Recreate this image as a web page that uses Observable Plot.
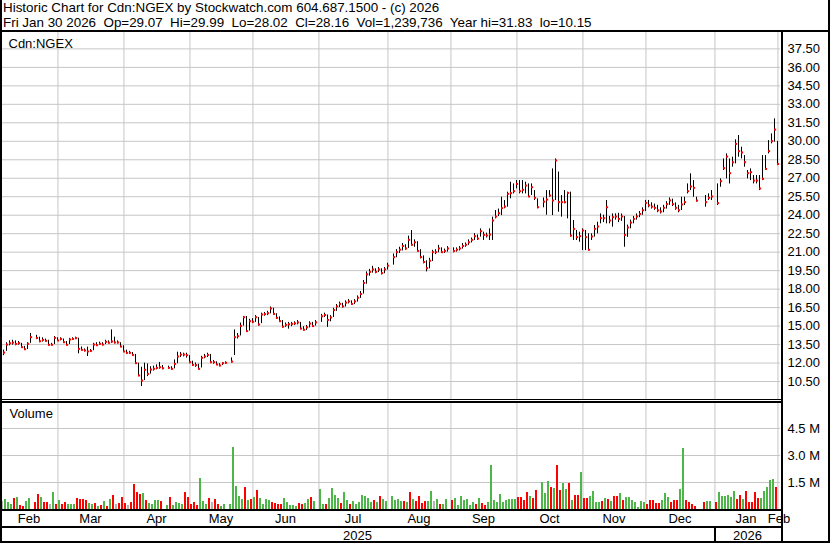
<!DOCTYPE html>
<html><head><meta charset="utf-8">
<script src="https://cdn.jsdelivr.net/npm/d3@7"></script>
<script src="https://cdn.jsdelivr.net/npm/@observablehq/plot@0.6"></script>
<style>
body{margin:0;background:#fff;}
#c{position:relative;width:830px;height:543px;overflow:hidden;background:#fff;font-family:Arial,"Liberation Sans",sans-serif;color:#000;}
#c svg{position:absolute;left:0;}
.ln{position:absolute;background:#000;}
#t{position:absolute;left:3px;top:0;font-size:13.4px;line-height:15px;white-space:pre;}
</style></head><body><div id="c"></div>
<script>
// weekday index 0 = startDate; bars start at firstIndex
const startDate = "2025-01-31";
const firstIndex = 2;
const title1 = "Historic Chart for Cdn:NGEX by Stockwatch.com 604.687.1500 - (c) 2026";
const title2 = "Fri Jan 30 2026  Op=29.07  Hi=29.99  Lo=28.02  Cl=28.16  Vol=1,239,736  Year hi=31.83  lo=10.15";
const symbolLabel = "Cdn:NGEX";
const volumeLabel = "Volume";
const priceTicks = [10.5,12,13.5,15,16.5,18,19.5,21,22.5,24,25.5,27,28.5,30,31.5,33,34.5,36,37.5];
const volumeTicks = [1.5,3.0,4.5]; // millions

const high = [
13.05,13.65,13.80,13.85,13.80,13.75,13.60,13.35,13.65,14.40,
null,14.25,14.10,14.05,13.95,13.85,13.60,14.15,14.05,14.05,
13.95,13.75,14.00,14.05,14.10,14.02,13.30,13.15,13.29,13.10,
13.60,13.65,13.70,13.65,13.85,13.80,14.69,14.10,13.80,13.65,
13.40,13.05,12.95,12.85,12.70,11.99,11.66,11.99,11.93,11.70,
11.75,11.85,12.05,11.80,null,11.75,11.70,12.25,12.88,12.85,
12.80,12.80,12.60,12.15,12.00,11.90,12.55,12.70,12.80,12.70,
12.20,12.10,11.95,12.05,12.10,null,12.42,14.69,14.40,15.25,
15.78,15.78,15.55,15.60,15.85,15.70,16.05,16.10,16.20,16.55,
16.45,16.00,15.75,15.45,15.25,15.30,15.30,15.35,15.45,15.30,
14.95,15.05,15.35,15.30,15.45,null,15.95,16.05,15.90,15.85,
16.45,16.75,16.95,16.85,17.05,17.15,17.05,17.15,17.45,17.80,
18.70,19.40,19.60,19.85,19.65,19.75,19.65,19.75,20.10,null,
20.85,21.20,21.40,21.70,21.60,22.30,22.75,22.00,21.85,21.20,
20.70,20.30,20.50,21.15,21.20,21.55,21.35,21.25,21.45,null,
21.35,21.35,21.45,21.70,21.75,22.00,22.15,22.50,22.40,22.89,
22.62,22.55,22.89,23.84,24.38,24.50,25.46,25.19,25.87,26.68,
26.54,26.81,26.81,26.81,26.68,26.54,26.54,26.00,25.33,null,
25.40,26.00,26.00,27.76,28.57,27.50,25.60,26.00,25.87,25.87,
23.57,22.76,22.62,22.89,22.76,22.49,22.49,23.16,23.43,24.11,
24.00,25.19,23.90,24.11,24.11,24.15,24.10,23.90,23.20,23.60,
23.90,24.10,24.30,24.60,25.20,25.20,25.00,24.90,24.80,24.60,
24.80,25.10,25.40,25.30,25.00,24.80,25.46,25.46,26.54,27.36,
26.81,25.46,null,null,25.60,25.73,26.00,null,26.54,26.95,
28.57,28.98,28.57,28.71,30.12,30.47,29.52,28.84,27.63,27.76,
27.22,27.22,27.22,28.84,28.84,30.06,30.60,31.82,29.99];

const low = [
12.60,12.95,13.40,13.45,13.40,13.45,13.20,13.05,13.10,13.60,
null,13.90,13.65,13.70,13.70,13.40,13.40,13.50,13.75,13.80,
13.60,13.40,13.50,13.85,13.90,12.75,13.00,12.90,12.53,12.85,
13.00,13.35,13.45,13.40,13.50,13.55,13.60,13.55,13.55,13.25,
12.85,12.70,12.70,12.55,11.90,10.90,10.09,10.58,10.90,11.10,
11.35,11.45,11.50,11.45,null,11.50,11.40,11.53,11.95,12.45,
12.50,12.40,11.95,11.75,11.65,11.45,11.60,12.35,12.45,11.95,
11.90,11.80,11.70,11.80,11.90,null,12.00,12.61,13.95,14.20,
15.00,14.50,14.60,15.20,15.30,15.00,15.20,15.80,15.85,16.00,
15.90,15.55,15.30,14.85,14.90,14.75,14.95,15.05,15.10,14.70,
14.60,14.65,14.85,14.90,15.00,null,15.30,15.70,14.90,15.35,
15.70,16.20,16.50,16.45,16.55,16.80,16.70,16.75,16.95,17.25,
17.60,18.40,19.05,19.30,19.25,19.35,19.15,19.25,19.55,null,
19.95,20.55,20.90,21.10,21.15,21.30,21.50,21.40,21.00,20.45,
20.05,19.40,19.65,20.25,20.80,20.95,20.90,20.90,21.00,null,
20.95,21.00,21.10,21.25,21.40,21.55,21.75,21.95,21.95,22.22,
21.95,22.15,21.95,21.95,23.70,23.90,23.97,24.52,24.65,25.33,
25.73,26.14,25.73,25.73,25.73,25.46,25.60,25.19,24.52,null,
24.60,24.00,25.46,23.97,25.19,24.24,23.84,24.92,23.70,22.22,
21.95,21.95,21.81,21.13,21.13,21.13,21.95,22.22,22.49,23.30,
23.40,23.30,23.30,23.03,23.60,23.40,23.50,21.40,22.20,22.90,
23.30,23.60,23.80,24.00,24.30,24.60,24.50,24.40,24.20,24.10,
24.20,24.50,24.80,24.70,24.40,24.20,24.38,24.79,25.73,26.00,
25.46,25.06,null,null,24.65,25.19,25.19,null,24.79,26.27,
27.63,26.95,26.54,27.90,28.17,28.71,28.57,27.90,26.95,26.81,
26.54,26.54,26.00,26.81,27.63,28.98,29.79,29.93,28.02];

const close = [
12.85,13.50,13.61,13.66,13.55,13.62,13.29,13.12,13.56,14.10,
null,14.04,13.77,13.88,13.80,13.48,13.48,14.04,13.83,13.96,
13.69,13.48,13.91,13.96,14.02,13.15,13.07,13.02,12.94,12.99,
13.50,13.45,13.56,13.50,13.72,13.65,13.75,13.67,13.67,13.34,
12.94,12.83,12.83,12.66,11.99,10.99,10.58,11.45,11.12,11.47,
11.53,11.61,11.66,11.58,null,11.61,11.53,11.93,12.53,12.69,
12.69,12.64,12.07,11.85,11.83,11.53,12.42,12.53,12.66,12.07,
12.07,11.88,11.80,11.99,12.02,null,12.12,14.10,14.18,15.02,
15.72,14.59,15.40,15.35,15.72,15.13,15.94,15.97,16.05,16.43,
15.99,15.67,15.40,14.95,15.10,15.15,15.18,15.22,15.30,14.80,
14.70,14.90,15.20,15.00,15.30,null,15.80,15.90,15.50,15.70,
16.30,16.60,16.80,16.60,16.90,17.00,16.80,17.00,17.30,17.60,
18.50,19.20,19.40,19.60,19.40,19.60,19.30,19.60,19.90,null,
20.60,21.00,21.20,21.50,21.30,22.00,21.60,21.80,21.10,20.60,
20.20,19.70,20.30,21.00,21.00,21.30,21.00,21.10,21.30,null,
21.10,21.20,21.30,21.50,21.60,21.80,22.00,22.30,22.10,22.70,
22.40,22.35,22.43,23.57,23.89,24.16,24.57,24.70,25.73,25.79,
25.95,26.54,25.95,26.06,26.41,25.52,26.27,25.41,24.65,null,
25.10,25.27,25.60,25.19,28.44,25.06,25.06,25.06,25.81,22.35,
22.89,22.22,22.30,22.76,22.22,21.19,22.27,22.89,23.08,23.76,
23.76,24.65,23.57,23.84,23.89,23.70,23.90,22.40,23.00,23.40,
23.70,23.90,24.10,24.40,25.00,24.80,24.70,24.60,24.40,24.30,
24.60,24.90,25.20,24.90,24.60,24.40,24.87,25.06,25.95,26.33,
26.22,25.19,null,null,25.06,25.41,25.52,null,24.98,26.76,
27.82,28.76,27.41,28.30,29.79,29.20,29.09,28.30,27.41,27.49,
26.81,26.81,26.17,26.95,27.76,29.20,30.01,30.95,28.16];

const volumeM = [
0.46,0.56,0.41,0.28,0.61,0.67,0.22,0.17,0.46,0.61,
null,0.41,0.83,0.67,0.41,0.41,0.28,0.94,0.28,0.50,
0.28,0.39,0.30,0.30,0.30,0.61,0.56,0.56,0.50,0.31,
0.28,0.31,0.17,0.22,0.44,0.17,0.56,0.78,0.28,0.33,
0.67,0.33,0.22,0.39,1.39,0.94,0.83,0.89,0.52,0.33,
0.28,0.50,0.50,0.44,null,0.22,0.67,0.22,0.39,0.33,
0.28,0.94,0.67,0.28,0.39,0.22,1.72,0.44,0.28,0.61,
0.39,0.56,0.28,0.17,0.28,null,0.28,3.44,1.28,0.72,
0.56,1.22,0.50,0.56,0.67,1.06,0.61,0.28,0.56,0.52,
0.39,0.33,0.30,0.30,0.61,0.39,0.22,0.22,0.17,0.33,
0.28,0.33,0.56,0.67,0.44,null,1.11,0.28,0.28,0.61,
1.17,0.78,0.61,0.33,0.94,0.50,0.28,0.44,0.28,0.39,
0.78,0.72,0.61,0.39,0.50,0.39,0.72,0.56,0.44,null,
0.72,0.50,0.56,0.44,0.44,0.39,0.94,0.56,0.44,0.72,
0.33,0.44,0.44,1.00,0.44,0.56,0.28,0.28,0.56,null,
0.50,0.61,0.22,0.72,0.50,0.56,0.22,0.39,0.28,0.61,
0.33,0.22,0.39,2.44,0.50,0.39,0.83,0.39,0.50,0.56,
0.56,0.56,0.67,0.67,0.50,0.94,0.72,0.63,1.06,null,
1.50,0.89,1.56,1.22,1.17,2.44,1.06,1.44,1.11,1.44,
0.50,0.78,0.78,2.06,0.61,0.61,0.72,1.00,0.39,0.39,
0.44,0.61,0.56,0.44,0.72,0.72,0.89,0.50,0.67,0.67,
0.50,0.39,0.11,0.44,0.39,0.28,0.50,0.50,0.33,0.33,
0.50,0.89,0.67,0.39,0.50,0.50,1.11,3.39,0.50,0.39,
0.28,0.17,null,null,0.39,0.44,0.44,null,0.39,0.94,
0.72,0.72,0.78,0.67,1.00,0.56,0.78,0.56,1.00,0.39,
0.39,0.94,0.61,0.61,1.00,1.22,1.61,1.67,1.24];

// g = up (green), r = down (red), n = unchanged (grey), - = no trading
const tone = ("ngggrgrrgg" + "-rrgrrngrg" + "rrgggrrrrg" + "grgrgrgrnr" + "rrnrrrrgrg" +
  "gggr-grggg" + "grrrrrgggr" + "nrrgg-gggg" + "grgrgrgggg" + "rrrrgggggr" +
  "rggrg-ggrg" + "gggrggrggg" + "ggggrgrgg-" + "ggggrgrgrr" + "rrggngrgg-" +
  "rgggggggrg" + "rrgggggggg" + "ggrrrrgrr-" + "gggrgrrggr" + "grrgrrgggg" +
  "rgrgrrgrgg" + "gggggrrrrr" + "gggrrrggrr" + "rr--rgg-rg" + "gggggrrgrr" + "rrrgggggr").split("");

const toneColor = {g: "#4cb648", r: "#ff0000", n: "#b4b4b4"};
const gridColor = "#c6c6c6";

const rows = close.map((c, k) => ({i: firstIndex + k, h: high[k], l: low[k], c, v: volumeM[k], t: tone[k]}))
  .filter(d => d.c != null);

// weekday calendar
const dates = [];
for (let d = new Date(startDate + "T00:00:00Z"); dates.length < 263; d = new Date(d.getTime() + 864e5)) {
  const w = d.getUTCDay(); if (w !== 0 && w !== 6) dates.push(d);
}
const xEnd = 261;
const months = [];
for (let k = 1; k < dates.length; k++) {
  if (dates[k].getUTCMonth() !== dates[k - 1].getUTCMonth()) {
    months.push({g: dates[k].getUTCDate() === 1 ? k : k - 1, date: dates[k]});
  }
}
const gridIdx = months.map(m => m.g);
const fmtMon = d3.utcFormat("%b");
const monthLabels = months.map((m, j) => {
  const next = j + 1 < months.length ? months[j + 1].g : xEnd;
  return {x: (Math.max(m.g, 1) + Math.min(next, xEnd)) / 2, text: fmtMon(m.date)};
}).filter(m => m.x <= xEnd);
const yearStarts = months.filter(m => m.date.getUTCMonth() === 0);
const yearLabels = [];
{
  let s = 1, yr = dates[firstIndex].getUTCFullYear();
  for (const y of yearStarts) { yearLabels.push({x: (s + y.g) / 2, text: String(yr)}); s = y.g; yr = y.date.getUTCFullYear(); }
  yearLabels.push({x: (s + xEnd) / 2, text: String(yr)});
}

const common = {
  width: 830, marginLeft: 0, marginRight: 50, marginTop: 0, marginBottom: 0,
  x: {domain: [1, xEnd], axis: null},
  style: {fontFamily: "Arial, 'Liberation Sans', sans-serif", fontSize: "13px", color: "#000", background: "transparent", overflow: "visible"}
};

const price = Plot.plot({...common, height: 368,
  y: {domain: [8.96, 38.83], axis: null, label: null},
  marks: [
    Plot.gridY(priceTicks, {stroke: gridColor, strokeOpacity: 1}),
    Plot.ruleX(gridIdx, {x: d => d + 0.15, stroke: gridColor, strokeOpacity: 1}),
    Plot.ruleX(rows, {x: "i", y1: "l", y2: "h", stroke: "#000", strokeWidth: 1}),
    Plot.ruleY(rows, {y: "c", x1: "i", x2: d => d.i + 0.7, stroke: "#f00", strokeWidth: 2}),
    Plot.axisY(priceTicks, {anchor: "right", label: null, tickSize: 0, tickPadding: 7, tickFormat: d => d.toFixed(2), fontSize: 13, fill: "#000"}),
    Plot.text([symbolLabel], {frameAnchor: "top-left", dx: 8, dy: 6, fontSize: 13, fill: "#000"})
  ]});

const vol = Plot.plot({...common, height: 106,
  y: {domain: [0, 5.89], axis: null, label: null},
  marks: [
    Plot.gridY(volumeTicks, {stroke: gridColor, strokeOpacity: 1}),
    Plot.ruleX(gridIdx, {x: d => d + 0.15, stroke: gridColor, strokeOpacity: 1}),
    Plot.rect(rows, {x1: d => d.i - 0.67, x2: d => d.i, y1: 0, y2: "v", fill: d => toneColor[d.t], shapeRendering: "crispEdges"}),
    Plot.axisY(volumeTicks, {anchor: "right", label: null, tickSize: 0, tickPadding: 7, tickFormat: d => d.toFixed(1) + " M", fontSize: 13, fill: "#000"}),
    Plot.text([volumeLabel], {frameAnchor: "top-left", dx: 9, dy: 5, fontSize: 13, fill: "#000"})
  ]});

const axisRow = Plot.plot({...common, height: 34,
  marks: [
    Plot.text(monthLabels, {x: "x", text: "text", frameAnchor: "top", lineAnchor: "top", dy: 4, fontSize: 13, fill: "#000"}),
    Plot.text(yearLabels, {x: "x", text: "text", frameAnchor: "top", lineAnchor: "top", dy: 21, fontSize: 13, fill: "#000"})
  ]});

const c = document.getElementById("c");
const t = document.createElement("div"); t.id = "t"; t.textContent = title1 + "\n" + title2; c.appendChild(t);
price.style.top = "32px"; c.appendChild(price);
vol.style.top = "403px"; c.appendChild(vol);
axisRow.style.top = "509px"; c.appendChild(axisRow);

const xs = vol.scale("x");
const line = (l, tp, w, h) => { const e = document.createElement("div"); e.className = "ln";
  Object.assign(e.style, {left: l + "px", top: tp + "px", width: w + "px", height: h + "px"}); c.appendChild(e); };
const axisX = 781;
line(0, 0, 2, 543);          // left border
line(828, 0, 2, 543);        // right border
line(0, 30, 830, 2);         // below title
line(axisX, 30, 2, 513);     // right axis line
line(0, 399, axisX, 1);      // double separator
line(0, 401, axisX, 2);
line(0, 509, axisX, 2);      // below volume
line(0, 526, axisX, 2);      // below months
line(0, 541, 830, 2);        // bottom
for (const y of yearStarts) line(Math.round(xs.apply(y.g)), 527, 1.5, 14);
</script></body></html>
